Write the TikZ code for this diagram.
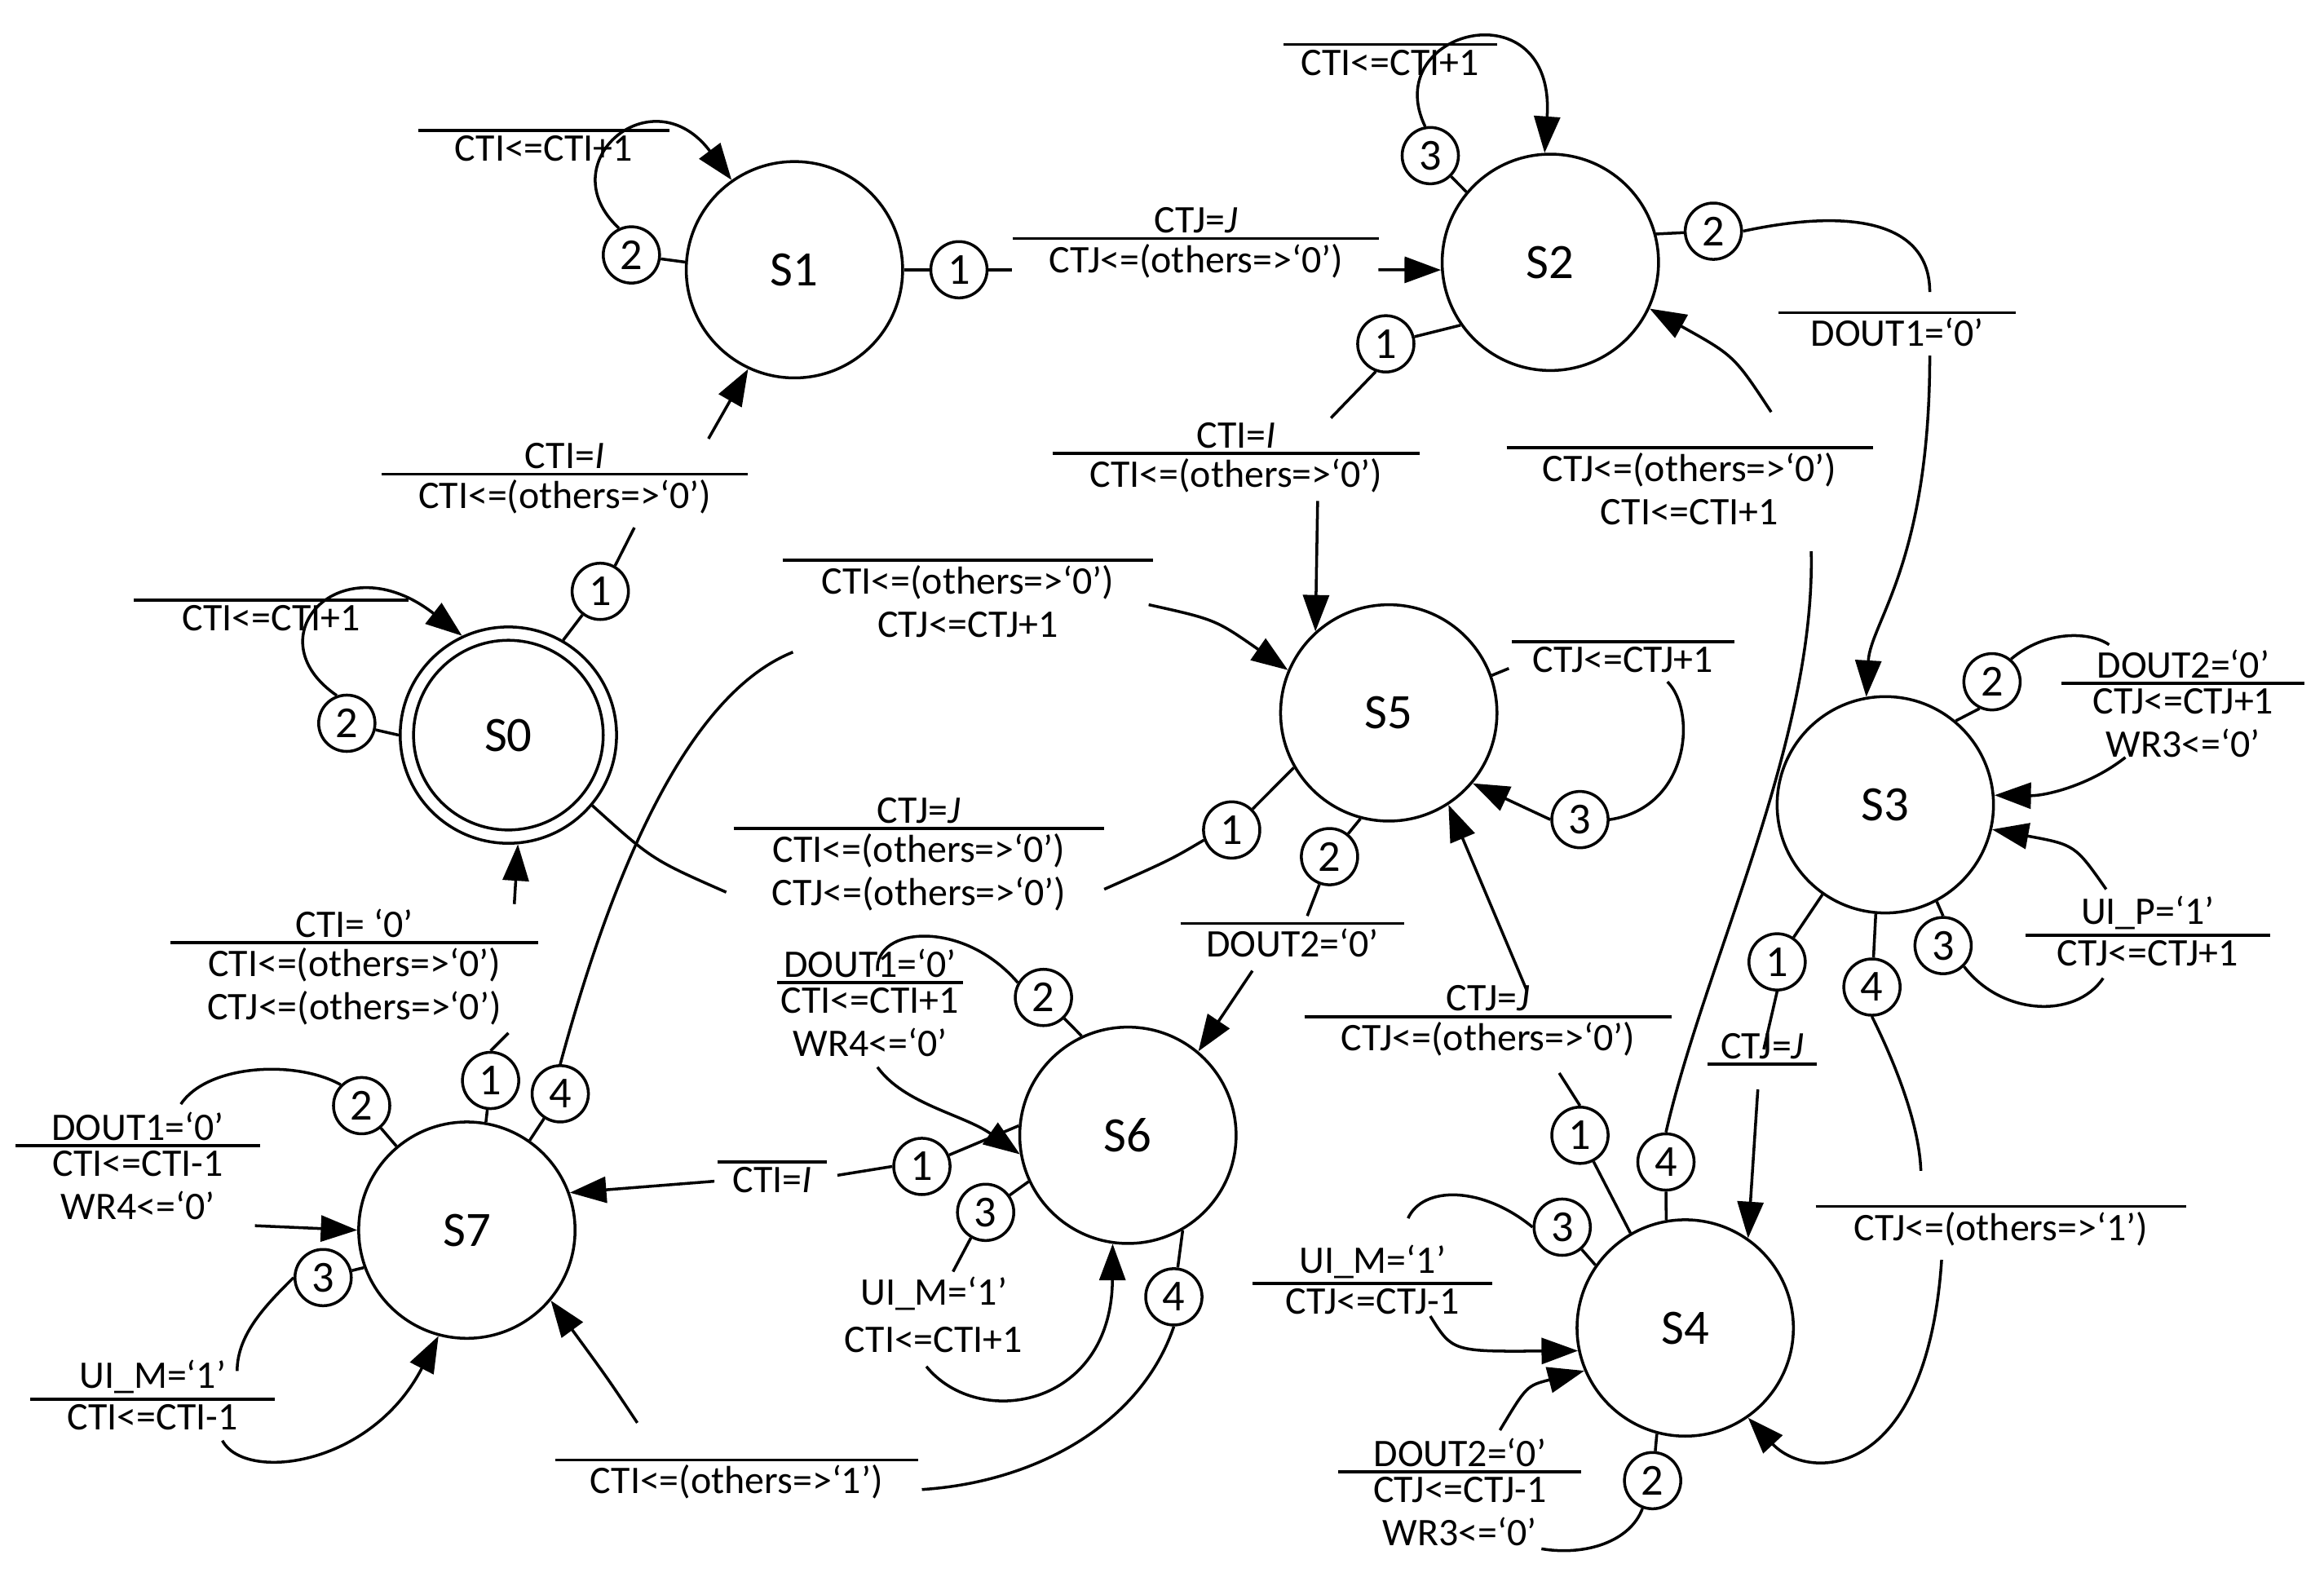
\documentclass[tikz,border=0pt]{standalone}
\usepackage{fontspec}
\setmainfont{Carlito}
\usetikzlibrary{arrows.meta}
\newcommand\mylbl[5]{%
 \draw (#1-#3/2,#2) -- (#1+#3/2,#2);
 \node[lt,anchor=south] at (#1,#2) {#4};
 \node[lt,anchor=north] at (#1,#2) {#5};}
\begin{document}
\begin{tikzpicture}[x=0.02cm,y=-0.02cm,line width=1.1pt,
 lt/.style={font=\fontsize{15}{16.5}\selectfont,align=center,inner sep=1.5pt},
 st/.style={circle,draw,minimum size=2.92cm,inner sep=0,font=\fontsize{19}{20}\selectfont},
 sc/.style={circle,draw,minimum size=0.76cm,inner sep=0,font=\fontsize{17}{18}\selectfont},
 ar/.style={-{Triangle[length=14pt,width=10pt]}}]
\useasboundingbox (0,0) rectangle (1568,1064);
\node[st] (s1) at (536,182) {S1};
\node[st] (s2) at (1046,177) {S2};
\node[st] (s0) at (343,496) {};
\node[circle,draw,minimum size=2.56cm,inner sep=0,font=\fontsize{19}{20}\selectfont] (s0i) at (343,496) {S0};
\node[st] (s5) at (937,481) {S5};
\node[st] (s3) at (1272,543) {S3};
\node[st] (s6) at (761,766) {S6};
\node[st] (s7) at (315,830) {S7};
\node[st] (s4) at (1137,896) {S4};
% S1 loop
\node[sc] (c12) at (426,172) {2};
\draw (s1.176) -- (c12);
\draw[ar] (c12.115) .. controls (370,110) and (440,50) .. (s1.125);
\mylbl{367}{88}{169}{}{CTI<=CTI+1}
% S1 -> S2
\node[sc] (c11) at (647,182) {1};
\draw (s1.east) -- (c11);
\coordinate (e11) at (683,182);
\draw (c11.east) -- (e11);
\coordinate (b11) at (930,182);
\draw[ar] (b11) -- (s2.184);
\mylbl{807}{161}{247}{CTJ=\textit{J}}{CTJ<=(others=>‘0’)}
% S0 -> S1
\node[sc] (c01) at (405,399) {1};
\draw (s0.60) -- (c01);
\coordinate (e01) at (428,356);
\draw (c01.60) -- (e01);
\coordinate (b01) at (478,296);
\draw[ar] (b01) -- (s1.245);
\mylbl{381}{320}{247}{CTI=\textit{I}}{CTI<=(others=>‘0’)}
% S0 loop
\node[sc] (c02) at (234,488) {2};
\draw (s0.180) -- (c02);
\draw[ar] (c02.110) .. controls (170,430) and (230,365) .. (s0.115);
\mylbl{183}{405}{185}{}{CTI<=CTI+1}
% S2 loop
\node[sc] (c23) at (965,105) {3};
\draw (s2.140) -- (c23);
\draw[ar] (c23.100) .. controls (930,20) and (1050,-10) .. (s2.93);
\mylbl{938}{30}{144}{}{CTI<=CTI+1}
% S2 -> S3
\node[sc] (c22) at (1156,156) {2};
\draw (s2.15) -- (c22);
\coordinate (e22) at (1302,197);
\draw (c22.east) .. controls (1250,140) and (1302,150) .. (e22);
\coordinate (b22) at (1302,240);
\draw[ar] (b22) .. controls (1302,380) and (1262,420) .. (s3.100);
\mylbl{1280}{211}{160}{}{DOUT1=‘0’}
% S2 -> S5
\node[sc] (c21) at (935,232) {1};
\draw (s2.215) -- (c21);
\coordinate (e21) at (898,282);
\draw (c21.250) -- (e21);
\coordinate (b21) at (889,338);
\draw[ar] (b21) -- (s5.132);
\mylbl{834}{306}{248}{CTI=\textit{I}}{CTI<=(others=>‘0’)}
% S4 -> S2
\node[sc] (c44) at (1124,784) {4};
\draw (s4.100) -- (c44);
\coordinate (e44) at (1222,372);
\draw (c44.north) .. controls (1150,650) and (1225,500) .. (e44);
\coordinate (b44) at (1195,278);
\draw[ar] (b44) .. controls (1170,240) .. (s2.-25);
\mylbl{1140}{302}{247}{}{CTJ<=(others=>‘0’)\\CTI<=CTI+1}
% S5 loop
\node[sc] (c53) at (1066,553) {3};
\draw[ar] (c53.west) -- (s5.-40);
\coordinate (e53) at (1018,451);
\draw (s5.20) -- (e53);
\coordinate (b53) at (1125,460);
\draw (b53) .. controls (1145,480) and (1140,545) .. (c53.east);
\mylbl{1095}{433}{150}{}{CTJ<=CTJ+1}
% S7 -> S5
\node[sc] (c74) at (378,738) {4};
\draw (s7.55) -- (c74);
\coordinate (e74) at (535,440);
\draw (c74.north) .. controls (410,600) and (460,470) .. (e74);
\coordinate (b74) at (775,408);
\draw[ar] (b74) .. controls (820,418) .. (s5.157);
\mylbl{653}{378}{250}{}{CTI<=(others=>‘0’)\\CTJ<=CTJ+1}
% S5 -> S0
\node[sc] (c51) at (831,560) {1};
\draw (s5.210) -- (c51);
\coordinate (e51) at (745,600);
\draw (c51.200) .. controls (790,580) .. (e51);
\coordinate (b51) at (490,602);
\draw (b51) .. controls (440,580) .. (s0.-40);
\mylbl{620}{559}{250}{CTJ=\textit{J}}{CTI<=(others=>‘0’)\\CTJ<=(others=>‘0’)}
% S5 -> S6
\node[sc] (c52) at (897,578) {2};
\draw (s5.255) -- (c52);
\coordinate (e52) at (882,618);
\draw (c52.250) -- (e52);
\coordinate (b52) at (845,655);
\draw[ar] (b52) -- (s6.50);
\mylbl{872}{623}{151}{}{DOUT2=‘0’}
% S4 -> S5
\node[sc] (c41) at (1066,766) {1};
\draw (s4.120) -- (c41);
\coordinate (e41) at (1052,724);
\draw (c41.north) -- (e41);
\coordinate (b41) at (1030,668);
\draw[ar] (b41) -- (s5.-57);
\mylbl{1004}{686}{248}{CTJ=\textit{J}}{CTJ<=(others=>‘0’)}
% S3 loop 2
\node[sc] (c32) at (1344,460) {2};
\draw (c32.245) -- (s3.50);
\coordinate (e32) at (1423,435);
\draw (c32.50) .. controls (1380,425) and (1410,426) .. (e32);
\coordinate (b32) at (1434,511);
\draw[ar] (b32) .. controls (1410,530) and (1380,537) .. (s3.5);
\mylbl{1473}{461}{164}{DOUT2=‘0’}{CTJ<=CTJ+1\\WR3<=‘0’}
% S3 loop 3
\node[sc] (c33) at (1311,638) {3};
\draw (c33.north) -- (s3.-62);
\coordinate (e33) at (1419,660);
\draw (c33.-45) .. controls (1350,685) and (1400,688) .. (e33);
\coordinate (b33) at (1421,600);
\draw[ar] (b33) .. controls (1400,570) .. (s3.-13);
\mylbl{1449}{631}{165}{UI\_P=‘1’}{CTJ<=CTJ+1}
% S3 -> S4 (1)
\node[sc] (c31) at (1199,649) {1};
\draw (s3.235) -- (c31);
\coordinate (e31) at (1190,708);
\draw (c31.south) -- (e31);
\coordinate (b31) at (1186,735);
\draw[ar] (b31) -- (s4.55);
\mylbl{1189}{718}{74}{CTJ=\textit{J}}{}
% S3 -> S4 (4)
\node[sc] (c34) at (1263,666) {4};
\draw (s3.-95) -- (c34);
\coordinate (e34) at (1296,790);
\draw (c34.south) .. controls (1280,720) and (1295,760) .. (e34);
\coordinate (b34) at (1310,850);
\draw[ar] (b34) .. controls (1300,1000) and (1220,1000) .. (s4.-55);
\mylbl{1350}{814}{250}{}{CTJ<=(others=>‘1’)}
% S4 loop 3
\node[sc] (c43) at (1054,828) {3};
\draw (s4.145) -- (c43);
\coordinate (e43) at (950,822);
\draw (c43.west) .. controls (1000,800) and (960,800) .. (e43);
\coordinate (b43) at (965,888);
\draw[ar] (b43) .. controls (980,912) .. (s4.192);
\mylbl{926}{866}{162}{UI\_M=‘1’}{CTJ<=CTJ-1}
% S4 loop 2
\node[sc] (c42) at (1115,999) {2};
\draw (s4.-105) -- (c42);
\coordinate (e42) at (1040,1045);
\draw (c42.-110) .. controls (1100,1040) and (1070,1050) .. (e42);
\coordinate (b42) at (1012,965);
\draw[ar] (b42) .. controls (1030,935) .. (s4.203);
\mylbl{985}{993}{164}{DOUT2=‘0’}{CTJ<=CTJ-1\\WR3<=‘0’}
% S6 -> S7
\node[sc] (c61) at (622,787) {1};
\draw (s6.175) -- (c61);
\coordinate (e61) at (565,793);
\draw (c61.west) -- (e61);
\coordinate (b61) at (482,797);
\draw[ar] (b61) -- (s7.20);
\mylbl{521}{784}{74}{}{CTI=\textit{I}}
% S6 loop 2
\node[sc] (c62) at (704,673) {2};
\draw (s6.115) -- (c62);
\coordinate (e62) at (592,655);
\draw (c62.150) .. controls (650,620) and (590,625) .. (e62);
\coordinate (b62) at (592,720);
\draw[ar] (b62) .. controls (610,745) and (650,752) .. (s6.190);
\mylbl{587}{663}{125}{DOUT1=‘0’}{CTI<=CTI+1\\WR4<=‘0’}
% S6 loop 3
\node[sc] (c63) at (665,818) {3};
\draw (s6.205) -- (c63);
\coordinate (e63) at (643,858);
\draw (c63.240) -- (e63);
\node[lt] (t63a) at (630,873) {UI\_M=‘1’};
\node[lt] (t63b) at (630,904) {CTI<=CTI+1};
\coordinate (b63) at (625,922);
\draw[ar] (b63) .. controls (660,965) and (750,950) .. (s6.-98);
% S6 -> S7 (4)
\node[sc] (c64) at (792,875) {4};
\draw (s6.-60) -- (c64);
\coordinate (e64) at (622,1005);
\draw (c64.south) .. controls (770,960) and (700,1000) .. (e64);
\coordinate (b64) at (430,960);
\draw[ar] (b64) .. controls (410,930) .. (s7.-40);
\mylbl{497}{985}{245}{}{CTI<=(others=>‘1’)}
% S7 -> S0
\node[sc] (c71) at (331,729) {1};
\draw (s7.80) -- (c71);
\coordinate (e71) at (343,697);
\draw (c71.north) -- (e71);
\coordinate (b71) at (347,610);
\draw[ar] (b71) -- (s0.-85);
\mylbl{239}{636}{248}{CTI= ‘0’}{CTI<=(others=>‘0’)\\CTJ<=(others=>‘0’)}
% S7 loop 2
\node[sc] (c72) at (244,746) {2};
\draw (s7.130) -- (c72);
\coordinate (e72) at (122,745);
\draw (c72.north west) .. controls (200,715) and (140,718) .. (e72);
\coordinate (b72) at (172,827);
\draw[ar] (b72) -- (s7.180);
\mylbl{93}{773}{165}{DOUT1=‘0’}{CTI<=CTI-1\\WR4<=‘0’}
% S7 loop 3
\node[sc] (c73) at (218,862) {3};
\draw (s7.200) -- (c73);
\coordinate (e73) at (160,925);
\draw (c73.west) .. controls (180,880) and (160,900) .. (e73);
\coordinate (b73) at (150,972);
\draw[ar] (b73) .. controls (165,1000) and (250,990) .. (s7.-105);
\mylbl{103}{944}{165}{UI\_M=‘1’}{CTI<=CTI-1}
\end{tikzpicture}
\end{document}
